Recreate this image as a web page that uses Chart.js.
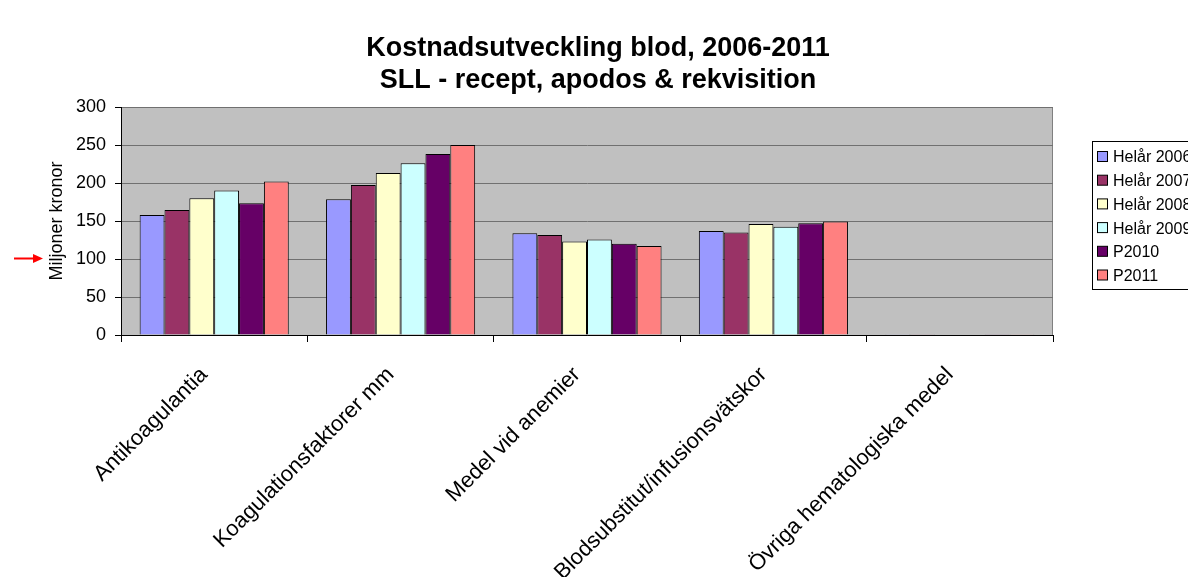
<!DOCTYPE html>
<html lang="sv">
<head>
<meta charset="utf-8">
<title>Kostnadsutveckling blod, 2006-2011</title>
<script src="https://cdn.jsdelivr.net/npm/chart.js@4.4.0/dist/chart.umd.min.js"></script>
<style>
    html, body { margin: 0; padding: 0; background: #fff; overflow: hidden; }
    #wrap { width: 1188px; height: 577px; }
</style>
</head>
<body>
<div id="wrap"><canvas id="chart" width="1188" height="577"></canvas></div>
<script>
// Kostnadsutveckling blod - bar chart

// Categories
const CATEGORIES = [
    'Antikoagulantia',
    'Koagulationsfaktorer mm',
    'Medel vid anemier',
    'Blodsubstitut/infusionsvätskor',
    'Övriga hematologiska medel'
];

// Series values (miljoner kronor)
const HELAR_2006 = [158, 178.5, 134, 137, 1];
const HELAR_2007 = [164.5, 197.5, 131.5, 135, 1];
const HELAR_2008 = [180, 213, 123, 146, 0.5];
const HELAR_2009 = [190, 226, 125.5, 142.5, 0.5];
const P2010 = [173.5, 238, 120, 147, 0.3];
const P2011 = [202, 250, 117, 149.5, 0.3];

// Y axis
const Y_TICKS = [0, 50, 100, 150, 200, 250, 300];

// Title lines
const TITLE = ['Kostnadsutveckling blod, 2006-2011', 'SLL - recept, apodos & rekvisition'];

const FONT = '"Liberation Sans", Arial, Helvetica, sans-serif';

// Excel-ish palette
const COLORS = ['#9999FF', '#993366', '#FFFFCC', '#CCFFFF', '#660066', '#FF8080'];

const SERIES = [
    { label: 'Helår 2006', data: HELAR_2006 },
    { label: 'Helår 2007', data: HELAR_2007 },
    { label: 'Helår 2008', data: HELAR_2008 },
    { label: 'Helår 2009', data: HELAR_2009 },
    { label: 'P2010', data: P2010 },
    { label: 'P2011', data: P2011 }
];

// Gray plot background + frame
const plotBackground = {
    id: 'plotBackground',
    beforeDraw(chart) {
        const { ctx, chartArea: a } = chart;
        ctx.save();
        ctx.fillStyle = '#C0C0C0';
        ctx.fillRect(a.left, a.top, a.right - a.left, a.bottom - a.top);
        ctx.strokeStyle = '#808080';
        ctx.lineWidth = 1;
        ctx.strokeRect(a.left + 0.5, a.top + 0.5, a.right - a.left - 1, a.bottom - a.top);
        ctx.restore();
    }
};

// Title centred on the whole page (not on the plot)
const pageTitle = {
    id: 'pageTitle',
    afterDraw(chart) {
        const ctx = chart.ctx;
        ctx.save();
        ctx.font = 'bold 27px ' + FONT;
        ctx.fillStyle = '#000';
        ctx.textAlign = 'center';
        ctx.textBaseline = 'middle';
        TITLE.forEach((line, i) => ctx.fillText(line, 598, 49 + i * 32));
        ctx.restore();
    }
};

// Boxed legend at the right, clipped by the window edge like the original
const boxLegend = {
    id: 'boxLegend',
    afterDraw(chart) {
        const ctx = chart.ctx;
        const x = 1092, y = 141, rowH = 23.7;
        ctx.save();
        ctx.fillStyle = '#fff';
        ctx.fillRect(x, y, 140, 148);
        ctx.strokeStyle = '#000';
        ctx.lineWidth = 1;
        ctx.strokeRect(x + 0.5, y + 0.5, 140, 148);
        ctx.font = '16px ' + FONT;
        ctx.textBaseline = 'middle';
        chart.data.datasets.forEach((ds, i) => {
            const cy = y + 16 + i * rowH;
            ctx.fillStyle = ds.backgroundColor;
            ctx.fillRect(x + 5.5, cy - 5.5, 10, 10);
            ctx.strokeRect(x + 5.5, cy - 5.5, 10, 10);
            ctx.fillStyle = '#000';
            ctx.fillText(ds.label, x + 21, cy + 1);
        });
        ctx.restore();
    }
};

// Red arrow pointing at the 100 line
const redArrow = {
    id: 'redArrow',
    afterDraw(chart) {
        const ctx = chart.ctx;
        const yPix = Math.round(chart.scales.y.getPixelForValue(100)) - 0.5;
        ctx.save();
        ctx.strokeStyle = '#FF0000';
        ctx.fillStyle = '#FF0000';
        ctx.lineWidth = 2;
        ctx.beginPath();
        ctx.moveTo(14, yPix);
        ctx.lineTo(34, yPix);
        ctx.stroke();
        ctx.beginPath();
        ctx.moveTo(43, yPix);
        ctx.lineTo(33, yPix - 4.5);
        ctx.lineTo(33, yPix + 4.5);
        ctx.closePath();
        ctx.fill();
        ctx.restore();
    }
};

function buildChart() {
    const ctx = document.getElementById('chart').getContext('2d');

    return new Chart(ctx, {
        type: 'bar',
        data: {
            labels: CATEGORIES,
            datasets: SERIES.map((s, i) => ({
                label: s.label,
                data: s.data,
                backgroundColor: COLORS[i],
                borderColor: '#000',
                borderWidth: 1,
                categoryPercentage: 0.8,
                barPercentage: 1
            }))
        },
        options: {
            responsive: false,
            animation: false,
            devicePixelRatio: 1,
            layout: { padding: { left: 42, right: 135, top: 107, bottom: 0 } },
            plugins: {
                legend: { display: false },
                tooltip: { enabled: false },
                title: { display: false }
            },
            scales: {
                x: {
                    offset: true,
                    grid: {
                        offset: true,
                        drawOnChartArea: false,
                        tickLength: 7,
                        color: '#000'
                    },
                    border: { display: true, color: '#000', width: 1 },
                    ticks: {
                        color: '#000',
                        autoSkip: false,
                        minRotation: 45,
                        maxRotation: 45,
                        padding: 20,
                        labelOffset: -10,
                        font: { family: FONT, size: 22 }
                    },
                    afterFit(scale) { scale.height = 242; }
                },
                y: {
                    min: 0,
                    max: 300,
                    afterBuildTicks(scale) { scale.ticks = Y_TICKS.map(v => ({ value: v })); },
                    grid: {
                        color: '#707070',
                        tickColor: '#000',
                        tickLength: 6,
                        lineWidth: 1
                    },
                    border: { display: true, color: '#000', width: 1 },
                    ticks: {
                        color: '#000',
                        padding: 9,
                        font: { family: FONT, size: 18 }
                    },
                    title: {
                        display: true,
                        text: 'Miljoner kronor',
                        color: '#000',
                        font: { family: FONT, size: 18 },
                        padding: { top: 4, bottom: 4 }
                    },
                    afterFit(scale) { scale.width = 79; }
                }
            }
        },
        plugins: [plotBackground, pageTitle, boxLegend, redArrow]
    });
}

document.addEventListener('DOMContentLoaded', buildChart);
</script>
</body>
</html>
